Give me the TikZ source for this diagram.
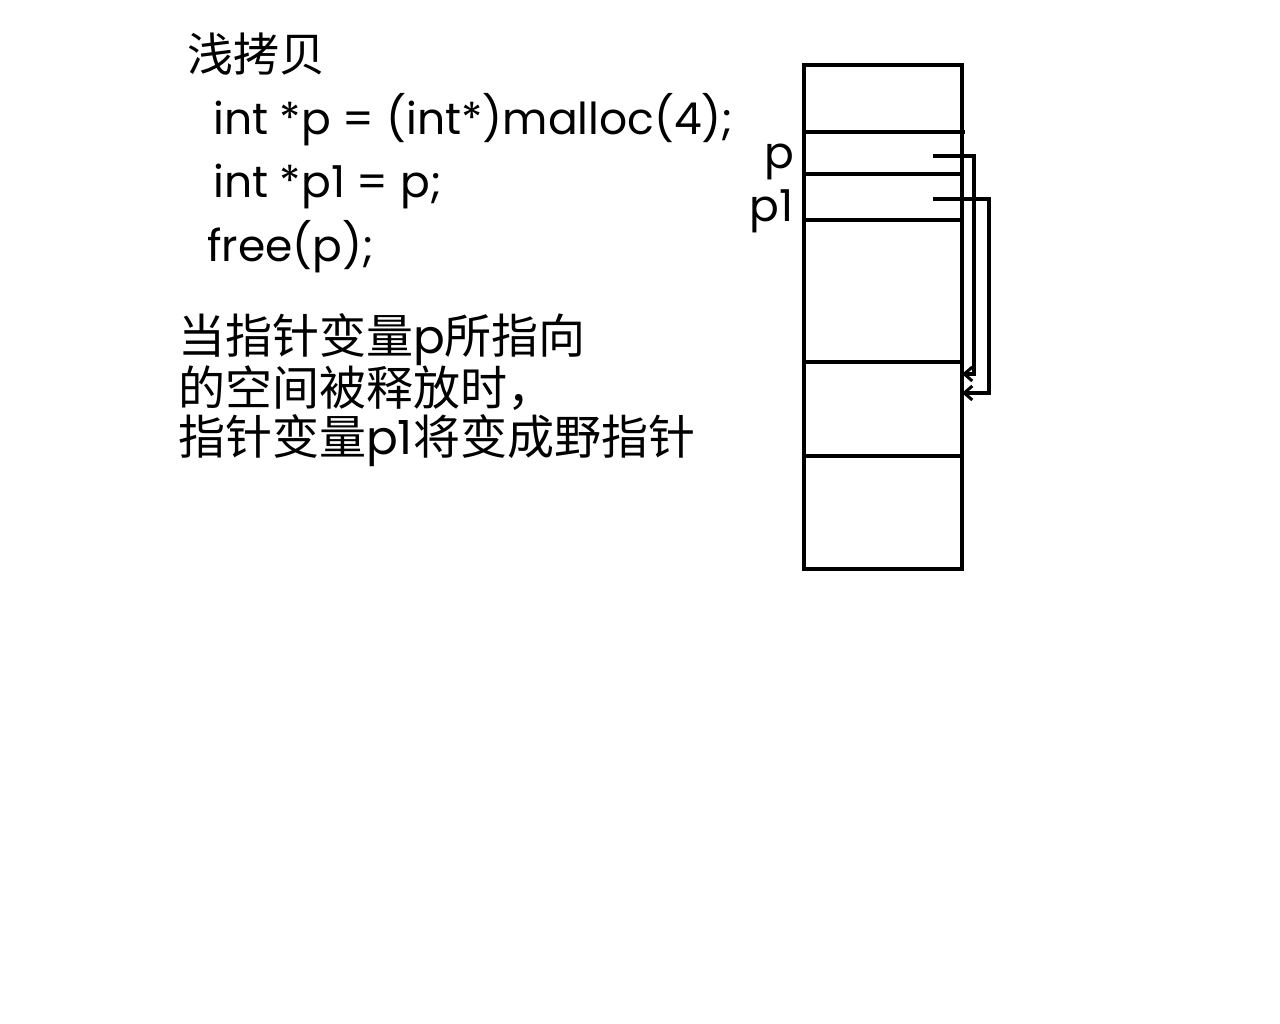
\documentclass[tikz,border=0pt]{standalone}
\usepackage{fontspec}
\setmainfont{Poppins}
\newfontfamily\cjk{Noto Sans CJK SC}
\usetikzlibrary{arrows.meta}
\tikzset{
  mem/.style={line width=3.5pt},
  ptr/.style={line width=3.5pt,-{Straight Barb[length=8pt,width=14pt,line width=3pt]}},
  txt/.style={inner sep=0pt,anchor=west},
  para/.style={txt,text height=36pt,text depth=6pt},
}
\begin{document}
\begin{tikzpicture}[x=1pt,y=-1pt]
\useasboundingbox[fill=white] (0,0) rectangle (1280,1024);
% memory block
\draw[mem] (804,65) rectangle (962,569);
\draw[mem] (804,132) -- (965,132);
\draw[mem] (804,174) -- (962,174);
\draw[mem] (804,220) -- (962,220);
\draw[mem] (804,362) -- (962,362);
\draw[mem] (804,456) -- (962,456);
\coordinate (ps) at (933,156);
\coordinate (p1s) at (933,199);
\coordinate (pt) at (962,374);
\coordinate (p1t) at (962,393);
\draw[ptr] (ps) -- (974,156) -- (974,374) -- (pt);
\draw[ptr] (p1s) -- (989,199) -- (989,393) -- (p1t);
\node[txt,anchor=east] (lp) at (794,162) {\fontsize{44}{48}\selectfont p};
\node[txt,anchor=east] (lp1) at (794,211) {\fontsize{44}{48}\selectfont p1};
% text
\node[txt] (title) at (187,54) {\fontsize{46}{50}\selectfont\cjk 浅拷贝};
\node[txt] (c1) at (213,120) {\fontsize{44}{48}\selectfont int *p = (int*)malloc(4);};
\node[txt] (c2) at (213,186) {\fontsize{44}{48}\selectfont int *p1 = p;};
\node[txt] (c3) at (207,247) {\fontsize{44}{48}\selectfont free(p);};
\node[para] (d1) at (178,339) {\fontsize{47}{50}\selectfont{\cjk 当指针变量}p{\cjk 所指向}};
\node[para] (d2) at (178,390) {\fontsize{47}{50}\selectfont{\cjk 的空间被释放时，}};
\node[para] (d3) at (178,439) {\fontsize{47}{50}\selectfont{\cjk 指针变量}p1{\cjk 将变成野指针}};
\end{tikzpicture}
\end{document}
